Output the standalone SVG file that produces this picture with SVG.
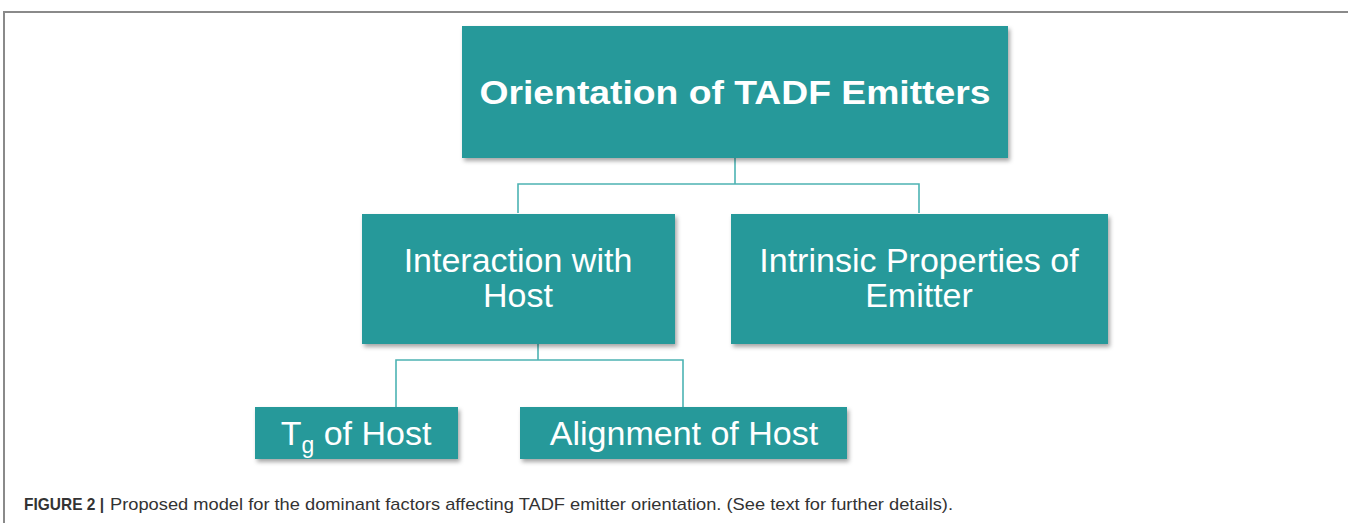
<svg xmlns="http://www.w3.org/2000/svg" width="1348" height="523" viewBox="0 0 1348 523">
<defs>
<filter id="sh" x="-5%" y="-5%" width="115%" height="125%">
<feDropShadow dx="2" dy="3" stdDeviation="2" flood-color="#000" flood-opacity="0.35"/>
</filter>
<style>
.box{fill:#26999a;filter:url(#sh);}
.lbl{font-family:"Liberation Sans",Arial,sans-serif;fill:#fff;text-anchor:middle;font-size:34px;}
.conn{fill:none;stroke:#4db3b3;stroke-width:1.6;}
.cap{font-family:"Liberation Sans",Arial,sans-serif;font-size:17px;fill:#333;}
</style>
</defs>
<rect width="1348" height="523" fill="#fff"/>
<path d="M4,523 V12 H1348" fill="none" stroke="#8a8a8a" stroke-width="2"/>
<g id="connectors">
<path class="conn" d="M735,158 V184 M518,213 V184 H919 V213"/>
<path class="conn" d="M538,344 V360 M396,407 V360 H683 V407"/>
</g>
<g id="root">
<rect class="box" x="462" y="26" width="546" height="132"/>
<text class="lbl" x="735" y="104" font-size="38" font-weight="bold" textLength="511" lengthAdjust="spacingAndGlyphs">Orientation of TADF Emitters</text>
</g>
<g id="interaction">
<rect class="box" x="362" y="214" width="313" height="130"/>
<text class="lbl" x="518" y="272">Interaction with</text>
<text class="lbl" x="518" y="307">Host</text>
</g>
<g id="intrinsic">
<rect class="box" x="731" y="214" width="377" height="130"/>
<text class="lbl" x="919" y="272">Intrinsic Properties of</text>
<text class="lbl" x="919" y="307">Emitter</text>
</g>
<g id="tg">
<rect class="box" x="255" y="407" width="203" height="52"/>
<text class="lbl" x="356" y="445">T<tspan font-size="23" dy="8">g</tspan><tspan dy="-8"> of Host</tspan></text>
</g>
<g id="alignment">
<rect class="box" x="520" y="407" width="327" height="52"/>
<text class="lbl" x="684" y="445">Alignment of Host</text>
</g>
<g id="caption">
<text class="cap" x="24" y="510" font-weight="bold" textLength="80" lengthAdjust="spacingAndGlyphs">FIGURE 2 |</text>
<text class="cap" x="110" y="510" textLength="843" lengthAdjust="spacingAndGlyphs">Proposed model for the dominant factors affecting TADF emitter orientation. (See text for further details).</text>
</g>
</svg>
